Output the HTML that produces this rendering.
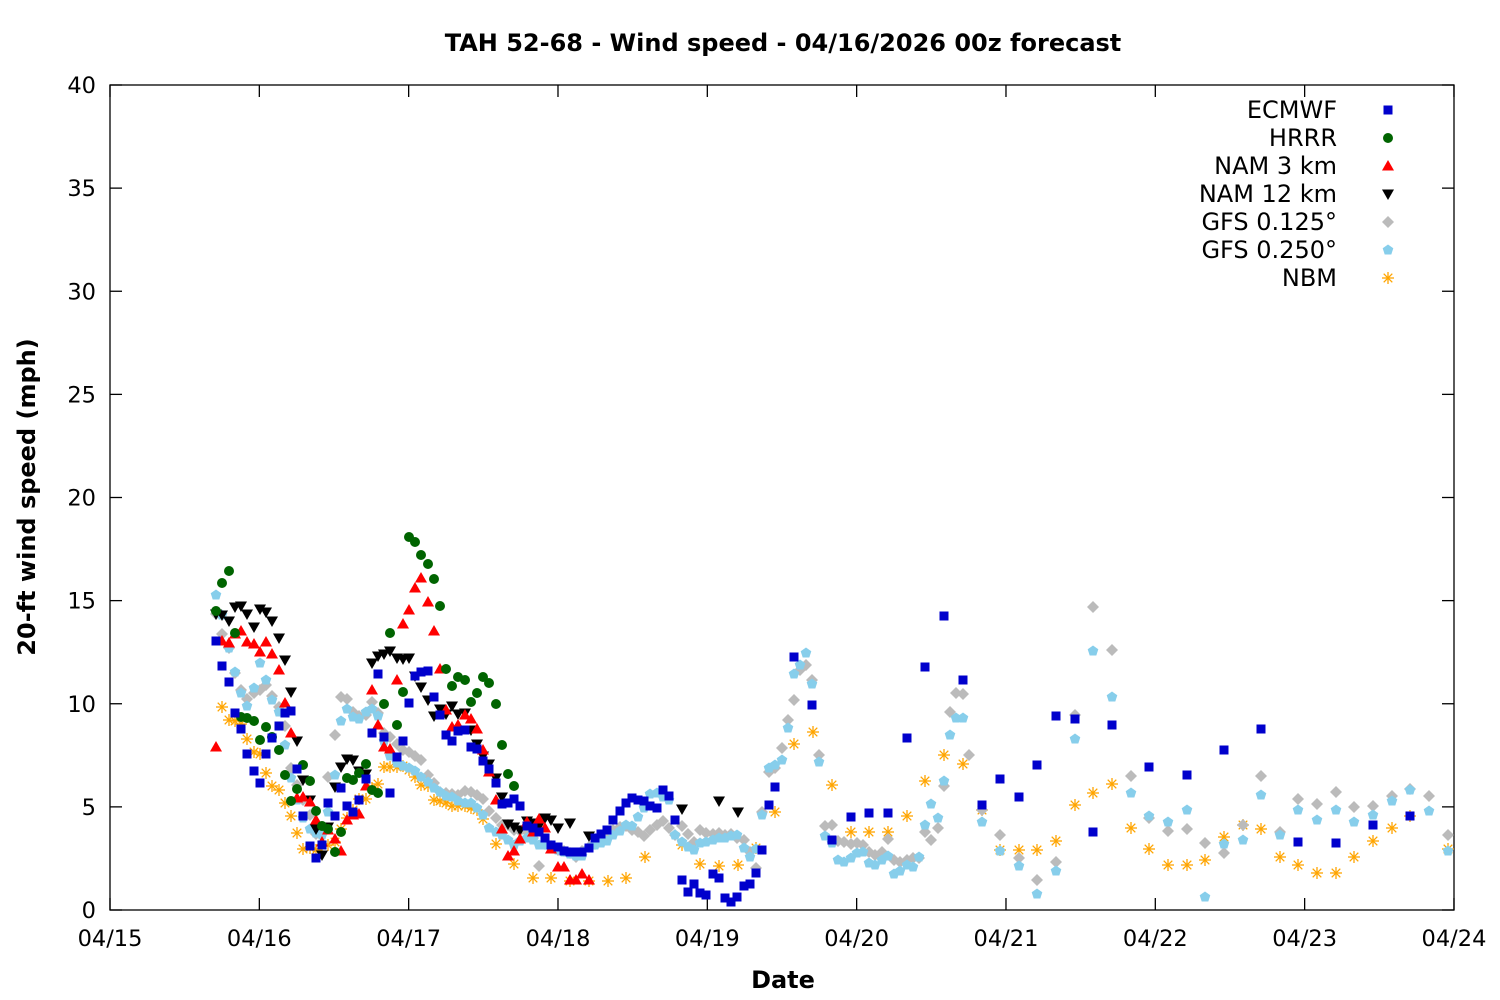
<!DOCTYPE html>
<html><head><meta charset="utf-8"><style>
html,body{margin:0;padding:0;background:#fff;}
svg{display:block;font-family:"DejaVu Sans","Liberation Sans",sans-serif;}
</style></head><body>
<svg id="s" width="1500" height="1000" xmlns="http://www.w3.org/2000/svg">
<rect width="1500" height="1000" fill="#fff"/>
<text x="783" y="51" text-anchor="middle" font-size="24" font-weight="bold">TAH 52-68 - Wind speed - 04/16/2026 00z forecast</text>
<text transform="translate(35,497) rotate(-90)" text-anchor="middle" font-size="24" font-weight="bold">20-ft wind speed (mph)</text>
<text x="783" y="988" text-anchor="middle" font-size="24" font-weight="bold">Date</text>
<g id="ax" stroke="#000" stroke-width="1.3" fill="none"><rect x="110" y="85" width="1344" height="825"/></g>
<g id="lab" font-size="22.5"></g>
<g id="pts"></g>
<g font-size="24" text-anchor="end">
<text x="1337" y="118">ECMWF</text><text x="1337" y="146">HRRR</text><text x="1337" y="174">NAM 3 km</text><text x="1337" y="202">NAM 12 km</text><text x="1337" y="230">GFS 0.125°</text><text x="1337" y="258">GFS 0.250°</text><text x="1337" y="286">NBM</text>
</g>
</svg>
<script>
var NS="http://www.w3.org/2000/svg",svg=document.getElementById('s'),ax=document.getElementById('ax'),lab=document.getElementById('lab'),pts=document.getElementById('pts');
function el(p,t,a){var e=document.createElementNS(NS,t);for(var k in a)e.setAttribute(k,a[k]);p.appendChild(e);return e;}
for(var i=0;i<=8;i++){var y=910-i*103.125;el(ax,'line',{x1:110,y1:y,x2:122,y2:y});el(ax,'line',{x1:1454,y1:y,x2:1442,y2:y});var t=el(lab,'text',{x:96,y:y+8,'text-anchor':'end'});t.textContent=i*5;}
var d=['04/15','04/16','04/17','04/18','04/19','04/20','04/21','04/22','04/23','04/24'];
for(var i=0;i<10;i++){var x=110+i*149.33;el(ax,'line',{x1:x,y1:910,x2:x,y2:898});el(ax,'line',{x1:x,y1:85,x2:x,y2:97});var t=el(lab,'text',{x:x,y:946,'text-anchor':'middle'});t.textContent=d[i];}
function P(s){return s.match(/-?\d+/g).map(Number);}
function mk(type,c,x,y){
 if(type==0)el(pts,'rect',{x:x-4.5,y:y-4.5,width:9,height:9,fill:c});
 else if(type==1)el(pts,'circle',{cx:x,cy:y,r:5,fill:c});
 else if(type==2)el(pts,'polygon',{points:(x)+','+(y-6)+' '+(x+6)+','+(y+4.5)+' '+(x-6)+','+(y+4.5),fill:c});
 else if(type==3)el(pts,'polygon',{points:(x)+','+(y+6)+' '+(x+6)+','+(y-4.5)+' '+(x-6)+','+(y-4.5),fill:c});
 else if(type==4)el(pts,'polygon',{points:(x)+','+(y-6)+' '+(x+6)+','+y+' '+x+','+(y+6)+' '+(x-6)+','+y,fill:c});
 else if(type==5)el(pts,'polygon',{points:x+','+(y-5.5)+' '+(x+5.3)+','+(y-1.7)+' '+(x+3.3)+','+(y+4.5)+' '+(x-3.3)+','+(y+4.5)+' '+(x-5.3)+','+(y-1.7),fill:c});
 else{var g=el(pts,'g',{stroke:c,'stroke-width':1.3});el(g,'line',{x1:x-6,y1:y,x2:x+6,y2:y});el(g,'line',{x1:x,y1:y-6,x2:x,y2:y+6});el(g,'line',{x1:x-4.3,y1:y-4.3,x2:x+4.3,y2:y+4.3});el(g,'line',{x1:x-4.3,y1:y+4.3,x2:x+4.3,y2:y-4.3});}
}
var S=[
[6,'#ffa500','(222,707),(229,720),(235,721),(241,724),(247,739),(254,752),(260,754),(266,773),(272,786),(279,790),(285,803),(291,816),(297,833),(303,849),(310,848),(316,850),(322,845),(328,845),(335,842),(341,829),(347,818),(353,810),(359,799),(366,799),(372,788),(378,784),(384,767),(390,767),(397,767),(403,766),(409,770),(415,777),(421,785),(428,786),(434,800),(440,801),(446,803),(452,806),(458,806),(465,806),(471,808),(477,810),(483,819),(496,844),(514,864),(533,878),(551,878),(570,881),(589,881),(608,881),(626,878),(645,857),(682,845),(700,864),(719,866),(738,865),(756,848),(775,812),(794,744),(813,732),(832,785),(851,832),(869,832),(888,832),(907,816),(925,781),(944,755),(963,764),(982,810),(1000,850),(1019,850),(1037,850),(1056,841),(1075,805),(1093,793),(1112,784),(1131,828),(1149,849),(1168,865),(1187,865),(1205,860),(1224,837),(1243,825),(1261,829),(1280,857),(1298,865),(1317,873),(1336,873),(1354,857),(1373,841),(1392,828),(1410,816),(1448,849)'],
[4,'#bbbbbb','(216,614),(222,634),(229,648),(235,673),(241,690),(247,699),(254,693),(260,690),(266,685),(272,696),(279,707),(285,726),(291,768),(297,785),(303,800),(310,815),(316,834),(322,834),(328,777),(335,735),(341,697),(347,699),(353,712),(359,716),(366,715),(372,702),(378,713),(384,733),(390,737),(397,744),(403,750),(409,752),(415,756),(421,760),(428,775),(434,783),(440,792),(446,793),(452,794),(458,795),(465,791),(471,792),(477,795),(483,799),(489,811),(496,818),(502,825),(508,825),(514,830),(520,831),(527,832),(533,838),(539,866),(545,844),(551,846),(558,850),(564,851),(570,853),(576,857),(582,851),(589,847),(595,844),(601,839),(607,834),(613,830),(620,827),(626,826),(632,830),(638,832),(644,836),(650,830),(657,825),(663,821),(669,828),(675,835),(682,826),(688,834),(694,842),(700,830),(706,833),(713,834),(719,833),(725,835),(731,834),(737,838),(744,840),(750,852),(756,868),(762,812),(769,772),(775,768),(782,748),(788,720),(794,700),(800,670),(806,665),(812,680),(819,755),(825,826),(832,825),(838,841),(844,842),(851,844),(857,843),(863,845),(869,852),(875,855),(882,852),(888,839),(894,860),(900,862),(907,860),(913,858),(919,858),(925,832),(931,840),(938,828),(944,786),(950,712),(956,693),(963,694),(969,755),(982,810),(1000,835),(1019,858),(1037,880),(1056,862),(1075,715),(1093,607),(1112,650),(1131,776),(1149,818),(1168,831),(1187,829),(1205,843),(1224,853),(1243,825),(1261,776),(1280,832),(1298,799),(1317,804),(1336,792),(1354,807),(1373,806),(1392,796),(1410,789),(1429,796),(1448,835)'],
[5,'#87ceeb','(216,595),(222,615),(229,648),(235,672),(241,693),(247,706),(254,688),(260,663),(266,680),(272,700),(279,712),(285,745),(291,778),(297,800),(303,818),(310,829),(316,833),(322,835),(328,812),(335,775),(341,721),(347,709),(353,717),(359,719),(366,712),(372,709),(378,716),(384,741),(390,756),(397,763),(403,766),(409,768),(415,771),(421,777),(428,782),(434,788),(440,792),(446,796),(452,797),(458,801),(465,803),(471,803),(477,808),(483,815),(489,828),(496,832),(502,835),(508,840),(514,845),(520,841),(527,838),(533,840),(539,845),(545,845),(551,848),(558,850),(564,852),(570,854),(576,856),(582,856),(589,848),(595,845),(601,843),(607,841),(613,835),(620,831),(626,825),(632,826),(638,817),(644,808),(650,794),(657,793),(663,797),(669,800),(675,835),(682,842),(688,847),(694,850),(700,843),(706,842),(713,840),(719,838),(725,838),(731,836),(737,835),(744,848),(750,857),(756,849),(762,815),(769,768),(775,765),(782,760),(788,728),(794,674),(800,665),(806,653),(812,684),(819,762),(825,836),(832,843),(838,860),(844,862),(851,858),(857,853),(863,852),(869,863),(875,865),(882,860),(888,856),(894,874),(900,871),(907,865),(913,867),(919,857),(925,825),(931,804),(938,818),(944,781),(950,735),(956,718),(963,718),(982,822),(1000,851),(1019,866),(1037,894),(1056,871),(1075,739),(1093,651),(1112,697),(1131,793),(1149,816),(1168,822),(1187,810),(1205,897),(1224,844),(1243,840),(1261,795),(1280,835),(1298,810),(1317,820),(1336,810),(1354,822),(1373,815),(1392,801),(1410,790),(1429,811),(1448,851)'],
[3,'#000000','(216,614),(222,615),(229,621),(235,607),(241,606),(247,614),(254,627),(260,609),(266,612),(272,621),(279,638),(285,660),(291,692),(297,741),(303,780),(310,800),(316,829),(322,855),(328,827),(335,787),(341,767),(347,759),(353,760),(359,771),(366,774),(372,663),(378,656),(384,654),(390,651),(397,658),(403,659),(409,658),(415,676),(421,687),(428,700),(434,716),(440,709),(446,714),(452,706),(458,714),(465,713),(471,730),(477,744),(483,756),(489,764),(496,778),(502,797),(508,824),(514,827),(520,830),(527,821),(533,823),(539,826),(545,818),(551,820),(558,828),(570,823),(589,836),(682,809),(719,801),(738,812)'],
[2,'#ff0000','(216,747),(222,641),(229,643),(235,634),(241,631),(247,642),(254,644),(260,652),(266,642),(272,654),(279,670),(285,703),(291,733),(297,798),(303,797),(310,802),(316,820),(322,842),(328,830),(335,839),(341,851),(347,820),(353,815),(359,814),(366,786),(372,690),(378,725),(384,747),(390,749),(397,680),(403,624),(409,610),(415,588),(421,578),(428,602),(434,631),(440,669),(446,710),(452,727),(458,725),(465,715),(471,719),(477,729),(483,750),(489,772),(496,800),(502,829),(508,856),(514,851),(520,839),(527,822),(533,832),(539,819),(545,828),(551,849),(558,867),(564,867),(570,880),(576,880),(582,874),(589,880)'],
[1,'#006400','(216,611),(222,583),(229,571),(235,633),(241,717),(247,718),(254,721),(260,740),(266,727),(272,737),(279,750),(285,775),(291,801),(297,789),(303,765),(310,781),(316,811),(322,826),(328,829),(335,852),(341,832),(347,778),(353,780),(359,773),(366,764),(372,790),(378,793),(384,704),(390,633),(397,725),(403,692),(409,537),(415,542),(421,555),(428,564),(434,579),(440,606),(446,669),(452,686),(458,677),(465,680),(471,702),(477,693),(483,677),(489,683),(496,704),(502,745),(508,774),(514,786)'],
[0,'#0000cc','(216,641),(222,666),(229,682),(235,713),(241,729),(247,754),(254,771),(260,783),(266,754),(272,738),(279,726),(285,713),(291,711),(297,769),(303,816),(310,846),(316,858),(322,845),(328,803),(335,816),(341,788),(347,806),(353,812),(359,800),(366,779),(372,733),(378,674),(384,737),(390,793),(397,757),(403,741),(409,703),(415,676),(421,672),(428,671),(434,697),(440,715),(446,735),(452,741),(458,731),(465,730),(471,747),(477,749),(483,761),(489,769),(496,783),(502,804),(508,803),(514,799),(520,806),(527,826),(533,828),(539,832),(545,838),(551,845),(558,847),(564,851),(570,852),(576,852),(582,852),(589,848),(595,838),(601,834),(607,830),(613,820),(620,811),(626,803),(632,798),(638,800),(644,801),(650,806),(657,808),(663,790),(669,796),(675,820),(682,880),(688,892),(694,884),(700,893),(706,895),(713,874),(719,878),(725,898),(731,902),(737,897),(744,886),(750,884),(756,873),(762,850),(769,805),(775,787),(794,657),(812,705),(832,840),(851,817),(869,813),(888,813),(907,738),(925,667),(944,616),(963,680),(982,805),(1000,779),(1019,797),(1037,765),(1056,716),(1075,719),(1093,832),(1112,725),(1149,767),(1187,775),(1224,750),(1261,729),(1298,842),(1336,843),(1373,825),(1410,816)']
];
S.forEach(function(s){var a=P(s[2]);for(var i=0;i<a.length;i+=2)mk(s[0],s[1],a[i],a[i+1]);});
var L=[[0,'#0000cc'],[1,'#006400'],[2,'#ff0000'],[3,'#000000'],[4,'#bbbbbb'],[5,'#87ceeb'],[6,'#ffa500']];
L.forEach(function(l,i){mk(l[0],l[1],1388,110+i*28);});
</script>
</body></html>
